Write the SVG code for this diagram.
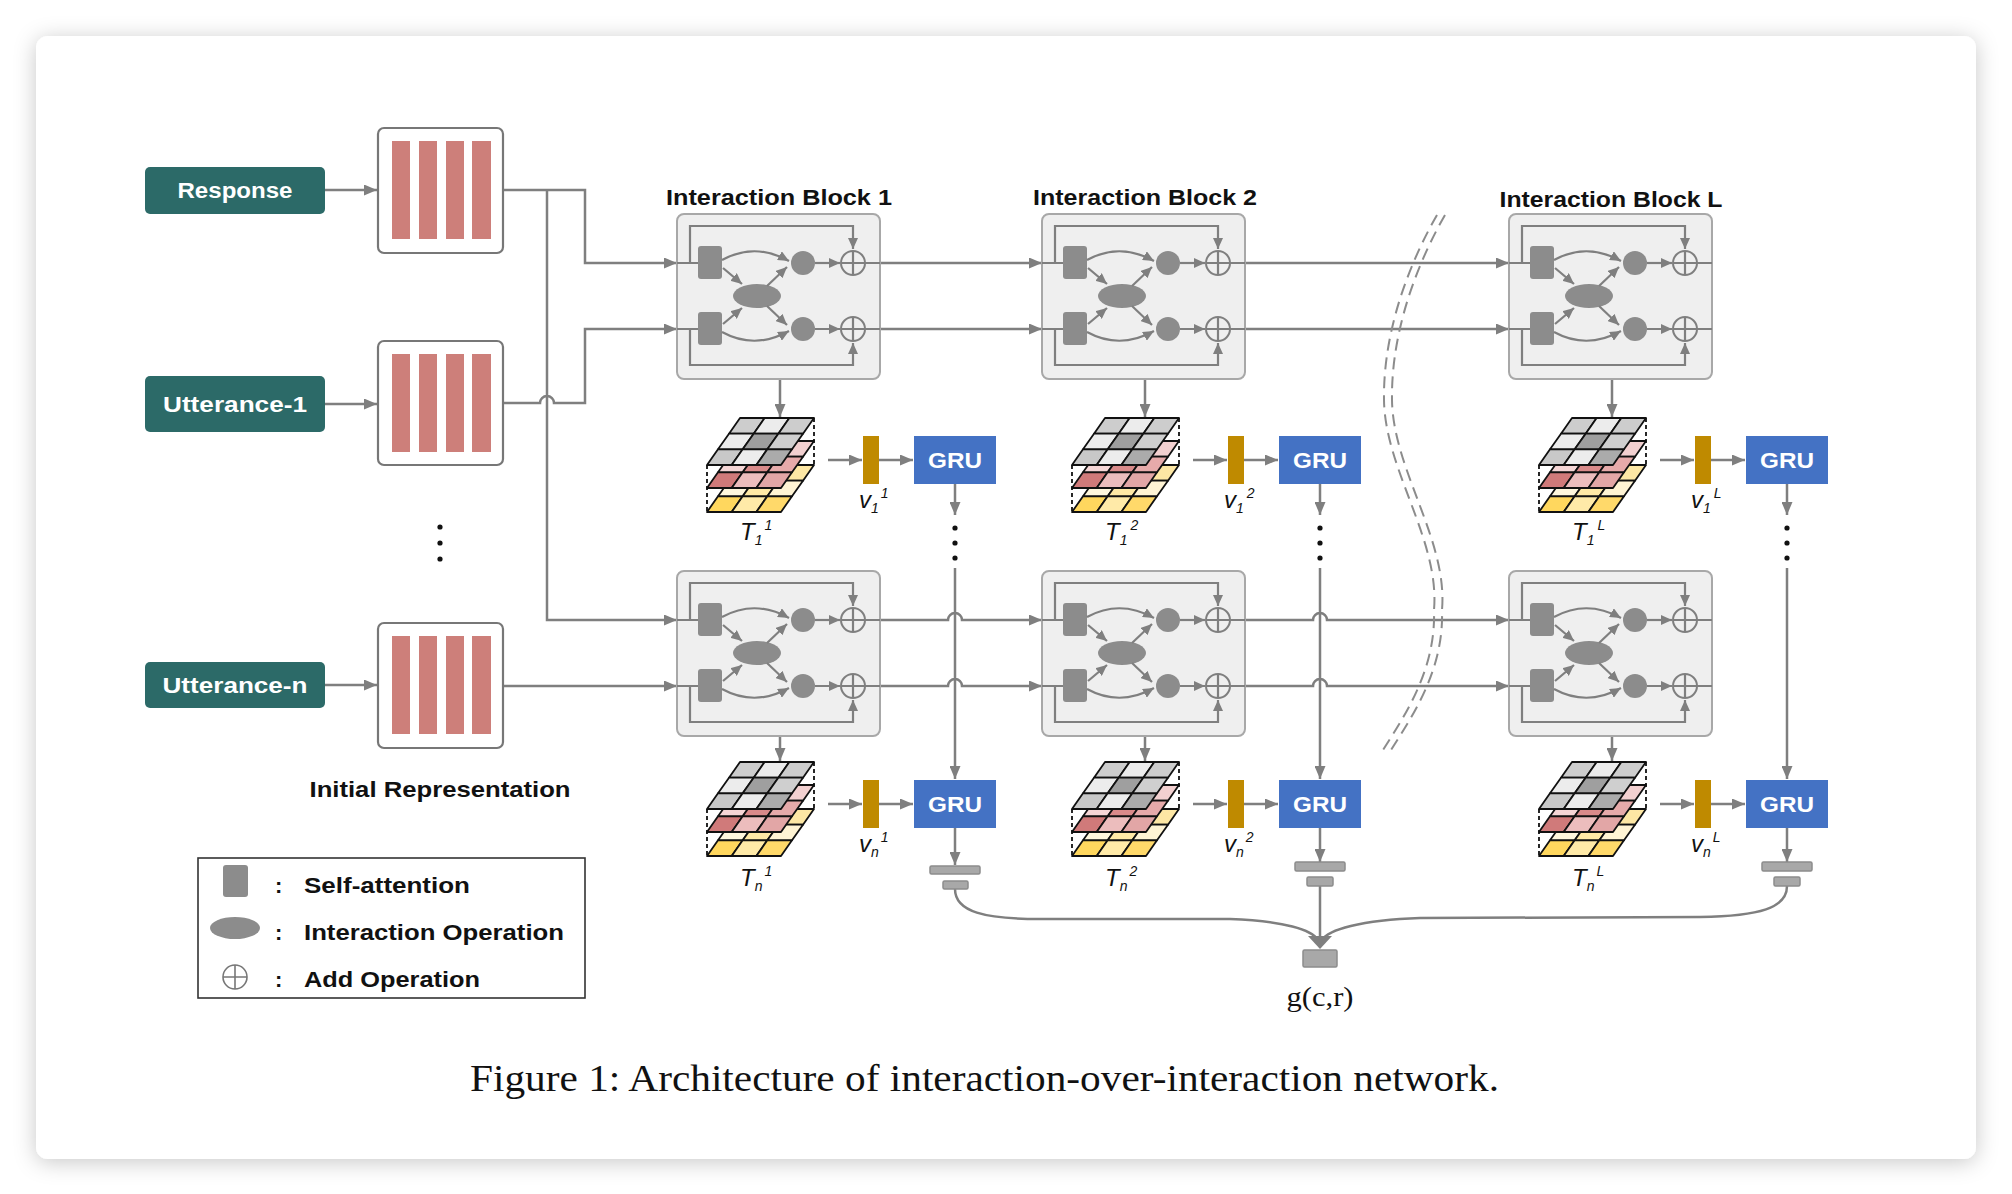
<svg xmlns="http://www.w3.org/2000/svg" xmlns:xlink="http://www.w3.org/1999/xlink" width="2012" height="1194" viewBox="0 0 2012 1194">
<style>
.ln{stroke:#7f7f7f;stroke-width:2.5;fill:none}
.lni{stroke:#7f7f7f;stroke-width:2.2;fill:none}
.gr{fill:#8c8c8c}
.lab{fill:#2c6a68}
.labt{font-family:"Liberation Sans",Arial,sans-serif;font-weight:bold;font-size:22px;fill:#ffffff}
.title{font-family:"Liberation Sans",Arial,sans-serif;font-weight:bold;font-size:22px;fill:#111111}
.it{font-family:"Liberation Sans",Arial,sans-serif;font-style:italic;font-size:24px;fill:#111111}
.sub{font-size:14px}
.gru{fill:#4472c4}
.grut{font-family:"Liberation Sans",Arial,sans-serif;font-weight:bold;font-size:22px;fill:#ffffff}
.vb{fill:#bf8a00}
.bar{fill:#a8a8a8;stroke:#8c8c8c;stroke-width:1.5}
.cell{stroke:#111111;stroke-width:1.8;stroke-linejoin:round}
.dsh{stroke:#111111;stroke-width:1.8;stroke-dasharray:4 3;fill:none}
.brk{stroke:#8c8c8c;stroke-width:2;fill:none;stroke-dasharray:12 7}
.rep{fill:#ffffff;stroke:#777777;stroke-width:2.2}
.pk{fill:#cd7f7a}
.dot{fill:#111111}
</style>
<defs>
<filter id="sh" x="-5%" y="-5%" width="110%" height="110%">
<feDropShadow dx="0" dy="3" stdDeviation="11" flood-color="#000000" flood-opacity="0.22"/>
</filter>
<marker id="ah" viewBox="0 0 13 11" refX="13" refY="5.5" markerWidth="13" markerHeight="11" markerUnits="userSpaceOnUse" orient="auto">
<path d="M0,0 L13,5.5 L0,11 z" fill="#7f7f7f"/>
</marker>
<marker id="as" viewBox="0 0 11 10" refX="11" refY="5" markerWidth="11" markerHeight="10" markerUnits="userSpaceOnUse" orient="auto">
<path d="M0,0 L11,5 L0,10 z" fill="#7f7f7f"/>
</marker>
<g id="blockTpl">
<rect x="0" y="0" width="203" height="165" rx="7" fill="#efefef" stroke="#a8a8a8" stroke-width="2"/>
<path class="lni" d="M0,49 H21 M0,115 H21"/>
<path class="lni" d="M13,49 V12 H176 V35" marker-end="url(#as)"/>
<path class="lni" d="M13,115 V151 H176 V129" marker-end="url(#as)"/>
<rect class="gr" x="21" y="32" width="24" height="33" rx="3"/>
<rect class="gr" x="21" y="98" width="24" height="33" rx="3"/>
<ellipse class="gr" cx="80" cy="82" rx="24" ry="12"/>
<circle class="gr" cx="126" cy="49" r="12"/>
<circle class="gr" cx="126" cy="115" r="12"/>
<path class="lni" d="M45,46 Q78,28 112,47" marker-end="url(#as)"/>
<path class="lni" d="M45,118 Q78,136 112,117" marker-end="url(#as)"/>
<path class="lni" d="M46,54 L65,70" marker-end="url(#as)"/>
<path class="lni" d="M90,72 L110,53" marker-end="url(#as)"/>
<path class="lni" d="M46,110 L65,94" marker-end="url(#as)"/>
<path class="lni" d="M90,92 L110,111" marker-end="url(#as)"/>
<path class="lni" d="M138,49 H163 M138,115 H163" marker-end="url(#as)"/>
<path class="lni" d="M138,49 H163" marker-end="url(#as)"/>
<circle cx="176" cy="49" r="12" fill="none" stroke="#7f7f7f" stroke-width="2"/>
<circle cx="176" cy="115" r="12" fill="none" stroke="#7f7f7f" stroke-width="2"/>
<path class="lni" d="M164,49 H203 M176,37 V61 M164,115 H203 M176,103 V127"/>
</g>
<g id="tensorTpl">
<g transform="translate(0,47)">
<polygon class="cell" fill="#fff3cf" points="0,0 24.67,0 13.67,15.67 -11,15.67"/>
<polygon class="cell" fill="#ffd65e" points="24.67,0 49.33,0 38.33,15.67 13.67,15.67"/>
<polygon class="cell" fill="#fde7a4" points="49.33,0 74,0 63,15.67 38.33,15.67"/>
<polygon class="cell" fill="#fff7dd" points="-11,15.67 13.67,15.67 2.67,31.33 -22,31.33"/>
<polygon class="cell" fill="#ffe9a6" points="13.67,15.67 38.33,15.67 27.33,31.33 2.67,31.33"/>
<polygon class="cell" fill="#fff4d4" points="38.33,15.67 63,15.67 52,31.33 27.33,31.33"/>
<polygon class="cell" fill="#ffd75e" points="-22,31.33 2.67,31.33 -8.33,47 -33,47"/>
<polygon class="cell" fill="#ffeaa8" points="2.67,31.33 27.33,31.33 16.33,47 -8.33,47"/>
<polygon class="cell" fill="#ffd96a" points="27.33,31.33 52,31.33 41,47 16.33,47"/>
</g>
<g transform="translate(0,23)">
<polygon class="cell" fill="#f3d2d2" points="0,0 24.67,0 13.67,15.67 -11,15.67"/>
<polygon class="cell" fill="#d98c8c" points="24.67,0 49.33,0 38.33,15.67 13.67,15.67"/>
<polygon class="cell" fill="#f2d0d0" points="49.33,0 74,0 63,15.67 38.33,15.67"/>
<polygon class="cell" fill="#f5d6d6" points="-11,15.67 13.67,15.67 2.67,31.33 -22,31.33"/>
<polygon class="cell" fill="#d98a8a" points="13.67,15.67 38.33,15.67 27.33,31.33 2.67,31.33"/>
<polygon class="cell" fill="#e6aaaa" points="38.33,15.67 63,15.67 52,31.33 27.33,31.33"/>
<polygon class="cell" fill="#d07a7a" points="-22,31.33 2.67,31.33 -8.33,47 -33,47"/>
<polygon class="cell" fill="#ecbdbd" points="2.67,31.33 27.33,31.33 16.33,47 -8.33,47"/>
<polygon class="cell" fill="#e2a6a6" points="27.33,31.33 52,31.33 41,47 16.33,47"/>
</g>
<g>
<polygon class="cell" fill="#cdcdcd" points="0,0 24.67,0 13.67,15.67 -11,15.67"/>
<polygon class="cell" fill="#ececec" points="24.67,0 49.33,0 38.33,15.67 13.67,15.67"/>
<polygon class="cell" fill="#cdcdcd" points="49.33,0 74,0 63,15.67 38.33,15.67"/>
<polygon class="cell" fill="#ececec" points="-11,15.67 13.67,15.67 2.67,31.33 -22,31.33"/>
<polygon class="cell" fill="#9f9f9f" points="13.67,15.67 38.33,15.67 27.33,31.33 2.67,31.33"/>
<polygon class="cell" fill="#cfcfcf" points="38.33,15.67 63,15.67 52,31.33 27.33,31.33"/>
<polygon class="cell" fill="#c8c8c8" points="-22,31.33 2.67,31.33 -8.33,47 -33,47"/>
<polygon class="cell" fill="#ececec" points="2.67,31.33 27.33,31.33 16.33,47 -8.33,47"/>
<polygon class="cell" fill="#ababab" points="27.33,31.33 52,31.33 41,47 16.33,47"/>
</g>
<path class="dsh" d="M74,0 V47 M-33,47 V94"/>
</g>
</defs>

<rect x="0" y="0" width="2012" height="1194" fill="#ffffff"/>
<rect x="36" y="36" width="1940" height="1123" rx="12" fill="#ffffff" filter="url(#sh)"/>

<g id="connectors">
<path class="ln" d="M325,190 H377" marker-end="url(#ah)"/>
<path class="ln" d="M325,404 H377" marker-end="url(#ah)"/>
<path class="ln" d="M325,685 H377" marker-end="url(#ah)"/>
<path class="ln" d="M503,190 H585 V263 H677" marker-end="url(#ah)"/>
<path class="ln" d="M547,190 V620 H677" marker-end="url(#ah)"/>
<path class="ln" d="M503,403 H540 A7,7 0 0 1 554,403 H585 V329 H677" marker-end="url(#ah)"/>
<path class="ln" d="M503,686 H677" marker-end="url(#ah)"/>
<path class="ln" d="M880,263 H1042" marker-end="url(#ah)"/>
<path class="ln" d="M880,329 H1042" marker-end="url(#ah)"/>
<path class="ln" d="M1245,263 H1509" marker-end="url(#ah)"/>
<path class="ln" d="M1245,329 H1509" marker-end="url(#ah)"/>
<path class="ln" d="M880,620 H948 A7,7 0 0 1 962,620 H1042" marker-end="url(#ah)"/>
<path class="ln" d="M880,686 H948 A7,7 0 0 1 962,686 H1042" marker-end="url(#ah)"/>
<path class="ln" d="M1245,620 H1313 A7,7 0 0 1 1327,620 H1509" marker-end="url(#ah)"/>
<path class="ln" d="M1245,686 H1313 A7,7 0 0 1 1327,686 H1509" marker-end="url(#ah)"/>
<path class="ln" d="M780,379 V417" marker-end="url(#ah)"/>
<path class="ln" d="M1145,379 V417" marker-end="url(#ah)"/>
<path class="ln" d="M1612,379 V417" marker-end="url(#ah)"/>
<path class="ln" d="M780,736 V761" marker-end="url(#ah)"/>
<path class="ln" d="M1145,736 V761" marker-end="url(#ah)"/>
<path class="ln" d="M1612,736 V761" marker-end="url(#ah)"/>
<path class="ln" d="M828,460 H862" marker-end="url(#ah)"/>
<path class="ln" d="M879,460 H913" marker-end="url(#ah)"/>
<path class="ln" d="M1193,460 H1227" marker-end="url(#ah)"/>
<path class="ln" d="M1244,460 H1278" marker-end="url(#ah)"/>
<path class="ln" d="M1660,460 H1694" marker-end="url(#ah)"/>
<path class="ln" d="M1711,460 H1745" marker-end="url(#ah)"/>
<path class="ln" d="M828,804 H862" marker-end="url(#ah)"/>
<path class="ln" d="M879,804 H913" marker-end="url(#ah)"/>
<path class="ln" d="M1193,804 H1227" marker-end="url(#ah)"/>
<path class="ln" d="M1244,804 H1278" marker-end="url(#ah)"/>
<path class="ln" d="M1660,804 H1694" marker-end="url(#ah)"/>
<path class="ln" d="M1711,804 H1745" marker-end="url(#ah)"/>
<path class="ln" d="M955,484 V515" marker-end="url(#ah)"/>
<path class="ln" d="M1320,484 V515" marker-end="url(#ah)"/>
<path class="ln" d="M1787,484 V515" marker-end="url(#ah)"/>
<path class="ln" d="M955,568 V779" marker-end="url(#ah)"/>
<path class="ln" d="M1320,568 V779" marker-end="url(#ah)"/>
<path class="ln" d="M1787,568 V779" marker-end="url(#ah)"/>
<path class="ln" d="M955,828 V865" marker-end="url(#ah)"/>
<path class="ln" d="M1320,828 V862" marker-end="url(#ah)"/>
<path class="ln" d="M1787,828 V862" marker-end="url(#ah)"/>
<path class="ln" d="M955,889 C955,912 985,919 1040,919 L1230,919 C1285,921 1312,930 1318,940"/>
<path class="ln" d="M1787,886 C1787,908 1760,916 1700,917 L1420,918 C1360,920 1328,930 1322,940"/>
<path class="ln" d="M1320,886 V940"/>
<polygon points="1308,936 1332,936 1320,949" fill="#7f7f7f"/>
<path class="brk" d="M1437,215 C1410,262 1383,330 1384,400 C1385,470 1440,540 1434,610 C1436,670 1405,715 1383,750"/>
<path class="brk" d="M1445,215 C1418,262 1391,330 1392,400 C1393,470 1448,540 1442,610 C1444,670 1413,715 1391,750"/>
</g>

<g id="dots">
<circle class="dot" cx="440" cy="527" r="2.6"/>
<circle class="dot" cx="440" cy="543" r="2.6"/>
<circle class="dot" cx="440" cy="559" r="2.6"/>
<circle class="dot" cx="955" cy="528" r="2.6"/>
<circle class="dot" cx="955" cy="543" r="2.6"/>
<circle class="dot" cx="955" cy="558" r="2.6"/>
<circle class="dot" cx="1320" cy="528" r="2.6"/>
<circle class="dot" cx="1320" cy="543" r="2.6"/>
<circle class="dot" cx="1320" cy="558" r="2.6"/>
<circle class="dot" cx="1787" cy="528" r="2.6"/>
<circle class="dot" cx="1787" cy="543" r="2.6"/>
<circle class="dot" cx="1787" cy="558" r="2.6"/>
</g>

<g id="label-response"><rect class="lab" x="145" y="167" width="180" height="47" rx="5"/><text class="labt" x="235" y="198" text-anchor="middle" textLength="115" lengthAdjust="spacingAndGlyphs">Response</text></g>
<g id="label-utt1"><rect class="lab" x="145" y="376" width="180" height="56" rx="5"/><text class="labt" x="235" y="412" text-anchor="middle" textLength="144" lengthAdjust="spacingAndGlyphs">Utterance-1</text></g>
<g id="label-uttn"><rect class="lab" x="145" y="662" width="180" height="46" rx="5"/><text class="labt" x="235" y="693" text-anchor="middle" textLength="145" lengthAdjust="spacingAndGlyphs">Utterance-n</text></g>

<g id="rep-response"><rect class="rep" x="378" y="128" width="125" height="125" rx="6"/><rect class="pk" x="392" y="141" width="18" height="98"/><rect class="pk" x="419" y="141" width="18" height="98"/><rect class="pk" x="446" y="141" width="18" height="98"/><rect class="pk" x="472" y="141" width="19" height="98"/></g>
<g id="rep-utt1"><rect class="rep" x="378" y="341" width="125" height="124" rx="6"/><rect class="pk" x="392" y="354" width="18" height="98"/><rect class="pk" x="419" y="354" width="18" height="98"/><rect class="pk" x="446" y="354" width="18" height="98"/><rect class="pk" x="472" y="354" width="19" height="98"/></g>
<g id="rep-uttn"><rect class="rep" x="378" y="623" width="125" height="125" rx="6"/><rect class="pk" x="392" y="636" width="18" height="98"/><rect class="pk" x="419" y="636" width="18" height="98"/><rect class="pk" x="446" y="636" width="18" height="98"/><rect class="pk" x="472" y="636" width="19" height="98"/></g>
<text class="title" x="440" y="797" text-anchor="middle" textLength="261" lengthAdjust="spacingAndGlyphs">Initial Representation</text>

<text class="title" x="779" y="205" text-anchor="middle" textLength="226" lengthAdjust="spacingAndGlyphs">Interaction Block 1</text>
<text class="title" x="1145" y="205" text-anchor="middle" textLength="224" lengthAdjust="spacingAndGlyphs">Interaction Block 2</text>
<text class="title" x="1611" y="207" text-anchor="middle" textLength="223" lengthAdjust="spacingAndGlyphs">Interaction Block L</text>

<g id="block-1-1"><use xlink:href="#blockTpl" transform="translate(677,214)"/></g>
<g id="block-1-2"><use xlink:href="#blockTpl" transform="translate(1042,214)"/></g>
<g id="block-1-L"><use xlink:href="#blockTpl" transform="translate(1509,214)"/></g>
<g id="block-n-1"><use xlink:href="#blockTpl" transform="translate(677,571)"/></g>
<g id="block-n-2"><use xlink:href="#blockTpl" transform="translate(1042,571)"/></g>
<g id="block-n-L"><use xlink:href="#blockTpl" transform="translate(1509,571)"/></g>

<g id="tensor-1-1"><use xlink:href="#tensorTpl" transform="translate(740,418)"/><text class="it" x="740" y="540">T<tspan class="sub" dy="5">1</tspan><tspan class="sub" dx="3" dy="-15">1</tspan></text></g>
<g id="tensor-1-2"><use xlink:href="#tensorTpl" transform="translate(1105,418)"/><text class="it" x="1105" y="540">T<tspan class="sub" dy="5">1</tspan><tspan class="sub" dx="3" dy="-15">2</tspan></text></g>
<g id="tensor-1-L"><use xlink:href="#tensorTpl" transform="translate(1572,418)"/><text class="it" x="1572" y="540">T<tspan class="sub" dy="5">1</tspan><tspan class="sub" dx="3" dy="-15">L</tspan></text></g>
<g id="tensor-n-1"><use xlink:href="#tensorTpl" transform="translate(740,762)"/><text class="it" x="740" y="886">T<tspan class="sub" dy="5">n</tspan><tspan class="sub" dx="2" dy="-15">1</tspan></text></g>
<g id="tensor-n-2"><use xlink:href="#tensorTpl" transform="translate(1105,762)"/><text class="it" x="1105" y="886">T<tspan class="sub" dy="5">n</tspan><tspan class="sub" dx="2" dy="-15">2</tspan></text></g>
<g id="tensor-n-L"><use xlink:href="#tensorTpl" transform="translate(1572,762)"/><text class="it" x="1572" y="886">T<tspan class="sub" dy="5">n</tspan><tspan class="sub" dx="2" dy="-15">L</tspan></text></g>

<g id="v-1-1"><rect class="vb" x="863" y="436" width="16" height="48"/><text class="it" x="859" y="508">v<tspan class="sub" dy="5">1</tspan><tspan class="sub" dx="3" dy="-15">1</tspan></text></g>
<g id="v-1-2"><rect class="vb" x="1228" y="436" width="16" height="48"/><text class="it" x="1224" y="508">v<tspan class="sub" dy="5">1</tspan><tspan class="sub" dx="3" dy="-15">2</tspan></text></g>
<g id="v-1-L"><rect class="vb" x="1695" y="436" width="16" height="48"/><text class="it" x="1691" y="508">v<tspan class="sub" dy="5">1</tspan><tspan class="sub" dx="3" dy="-15">L</tspan></text></g>
<g id="v-n-1"><rect class="vb" x="863" y="780" width="16" height="48"/><text class="it" x="859" y="852">v<tspan class="sub" dy="5">n</tspan><tspan class="sub" dx="2" dy="-15">1</tspan></text></g>
<g id="v-n-2"><rect class="vb" x="1228" y="780" width="16" height="48"/><text class="it" x="1224" y="852">v<tspan class="sub" dy="5">n</tspan><tspan class="sub" dx="2" dy="-15">2</tspan></text></g>
<g id="v-n-L"><rect class="vb" x="1695" y="780" width="16" height="48"/><text class="it" x="1691" y="852">v<tspan class="sub" dy="5">n</tspan><tspan class="sub" dx="2" dy="-15">L</tspan></text></g>

<g id="gru-1-1"><rect class="gru" x="914" y="436" width="82" height="48"/><text class="grut" x="955" y="468" text-anchor="middle" textLength="54" lengthAdjust="spacingAndGlyphs">GRU</text></g>
<g id="gru-1-2"><rect class="gru" x="1279" y="436" width="82" height="48"/><text class="grut" x="1320" y="468" text-anchor="middle" textLength="54" lengthAdjust="spacingAndGlyphs">GRU</text></g>
<g id="gru-1-L"><rect class="gru" x="1746" y="436" width="82" height="48"/><text class="grut" x="1787" y="468" text-anchor="middle" textLength="54" lengthAdjust="spacingAndGlyphs">GRU</text></g>
<g id="gru-n-1"><rect class="gru" x="914" y="780" width="82" height="48"/><text class="grut" x="955" y="812" text-anchor="middle" textLength="54" lengthAdjust="spacingAndGlyphs">GRU</text></g>
<g id="gru-n-2"><rect class="gru" x="1279" y="780" width="82" height="48"/><text class="grut" x="1320" y="812" text-anchor="middle" textLength="54" lengthAdjust="spacingAndGlyphs">GRU</text></g>
<g id="gru-n-L"><rect class="gru" x="1746" y="780" width="82" height="48"/><text class="grut" x="1787" y="812" text-anchor="middle" textLength="54" lengthAdjust="spacingAndGlyphs">GRU</text></g>

<g id="pool-1"><rect class="bar" x="930" y="866" width="50" height="8" rx="1.5"/><rect class="bar" x="943" y="881" width="25" height="8" rx="1.5"/></g>
<g id="pool-2"><rect class="bar" x="1295" y="862" width="50" height="9" rx="1.5"/><rect class="bar" x="1307" y="877" width="26" height="9" rx="1.5"/></g>
<g id="pool-L"><rect class="bar" x="1762" y="862" width="50" height="9" rx="1.5"/><rect class="bar" x="1774" y="877" width="26" height="9" rx="1.5"/></g>
<g id="score"><rect class="bar" x="1303" y="950" width="34" height="17" rx="1.5"/><text x="1320" y="1006" text-anchor="middle" font-family="'Liberation Serif','Times New Roman',serif" font-size="28" fill="#111111" textLength="67" lengthAdjust="spacingAndGlyphs">g(c,r)</text></g>

<g id="legend">
<rect x="198" y="858" width="387" height="140" fill="#ffffff" stroke="#333333" stroke-width="1.6"/>
<rect class="gr" x="223" y="865" width="25" height="32" rx="3"/>
<ellipse class="gr" cx="235" cy="928" rx="25" ry="11"/>
<circle cx="235" cy="977" r="12" fill="none" stroke="#777777" stroke-width="1.6"/>
<path d="M223,977 H247 M235,965 V989" stroke="#777777" stroke-width="1.6"/>
<text class="title" x="275" y="893">:</text>
<text class="title" x="275" y="940">:</text>
<text class="title" x="275" y="987">:</text>
<text class="title" x="304" y="893" textLength="166" lengthAdjust="spacingAndGlyphs">Self-attention</text>
<text class="title" x="304" y="940" textLength="260" lengthAdjust="spacingAndGlyphs">Interaction Operation</text>
<text class="title" x="304" y="987" textLength="176" lengthAdjust="spacingAndGlyphs">Add Operation</text>
</g>

<text x="470" y="1091" font-family="'Liberation Serif','Times New Roman',serif" font-size="38" fill="#111111" textLength="1029" lengthAdjust="spacingAndGlyphs">Figure 1: Architecture of interaction-over-interaction network.</text>
</svg>
